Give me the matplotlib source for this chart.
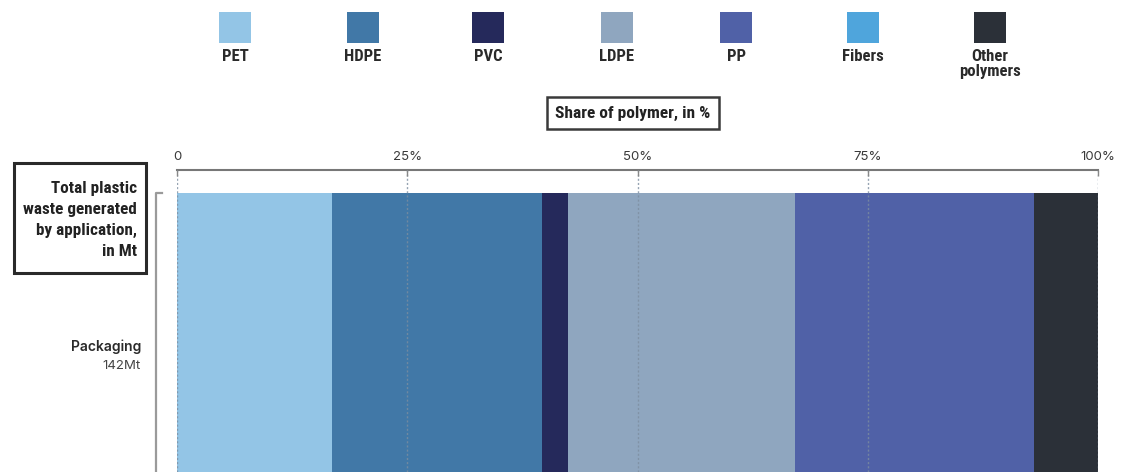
import matplotlib
matplotlib.use("Agg")
import matplotlib.pyplot as plt
from matplotlib import font_manager
from matplotlib.patches import Rectangle
from matplotlib.lines import Line2D

# Polymer shares of packaging waste (%)
polymers = ["PET", "HDPE", "PVC", "LDPE", "PP", "Fibers", "Other\npolymers"]
shares = [16.8, 22.8, 2.9, 24.6, 26.0, 0.0, 6.9]
colors = ["#93c5e6", "#4178a7", "#25295b", "#8fa6bf", "#5061a7", "#4fa5dc", "#2b3038"]
application = "Packaging"
application_total = "142Mt"
tick_values = [0, 25, 50, 75, 100]
tick_labels = ["0", "25%", "50%", "75%", "100%"]

W, H = 1122, 472

# Pick a narrow bold face for headings if one is installed
fonts = font_manager.fontManager.ttflist
names = {f.name for f in fonts}
COND_STYLE = None
for cand in ["Liberation Sans Narrow", "Roboto Condensed", "Open Sans Condensed",
             "Noto Sans Condensed", "DejaVu Sans Condensed"]:
    if cand in names:
        COND_STYLE = dict(family=[cand, "DejaVu Sans"])
        SCALE = 1.0
        break
if COND_STYLE is None:
    has_cond = any(f.name == "DejaVu Sans" and str(f.stretch) in ("condensed", "semi-condensed")
                   for f in fonts)
    COND_STYLE = dict(family=["DejaVu Sans"], stretch="condensed")
    SCALE = 0.95 if has_cond else 0.85


def fx(x):
    return x / W


def fy(y):
    return 1 - y / H


fig = plt.figure(figsize=(W / 100, H / 100), dpi=100)
fig.patch.set_facecolor("white")

# Legend row: coloured squares with labels underneath
legend_x = [235, 363, 488, 617, 736, 863, 990]
for name, col, cx in zip(polymers, colors, legend_x):
    fig.patches.append(Rectangle((fx(cx - 16), fy(43)), 32 / W, 31 / H,
                                 transform=fig.transFigure, facecolor=col,
                                 edgecolor="none"))
    fig.text(fx(cx), fy(49), name, ha="center", va="top", fontsize=12 * SCALE,
             fontweight="bold", color="#2a2a2a", linespacing=1.0, **COND_STYLE)

# Axis title box
fig.text(fx(633), fy(113), "Share of polymer, in %", ha="center", va="center",
         fontsize=12.5 * SCALE, fontweight="bold", color="#222222",
         bbox=dict(boxstyle="square,pad=0.5", facecolor="white",
                   edgecolor="#3a3a3a", linewidth=1.8), **COND_STYLE)

# Main axes
ax = fig.add_axes([fx(177), 0, (1098 - 177) / W, 1 - 170 / H])
left = 0.0
for share, col in zip(shares, colors):
    ax.barh(0, share, left=left, height=2.0, color=col, edgecolor="none",
            zorder=1)
    left += share

ax.set_xlim(0, 100)
ax.set_ylim(0, 302 / 279)
ax.set_yticks([])
ax.xaxis.tick_top()
ax.set_xticks(tick_values)
ax.set_xticklabels(tick_labels)
ax.tick_params(axis="x", direction="in", length=4, width=1.0, color="#888888",
               pad=5, labelsize=9.5, labelcolor="#3a3a3a")
for lab in ax.get_xticklabels():
    lab.set_family(["Inter", "DejaVu Sans"])
for side in ["left", "right", "bottom"]:
    ax.spines[side].set_visible(False)
ax.spines["top"].set_color("#777777")
ax.spines["top"].set_linewidth(1.5)
ax.set_axisbelow(False)
ax.grid(axis="x", color="#7d8ea0", linestyle=(0, (1.5, 1.5)), linewidth=1.0,
        alpha=0.8, zorder=3)
ax.patch.set_alpha(0)

# Left bracket marking the category rows
fig.lines.append(Line2D([fx(162), fx(156), fx(156)], [fy(193), fy(193), fy(472)],
                        transform=fig.transFigure, color="#9a9a9a",
                        linewidth=1.6))

# Row header box
fig.patches.append(Rectangle((fx(14), fy(273)), (146 - 14) / W, (273 - 163) / H,
                             transform=fig.transFigure, facecolor="white",
                             edgecolor="#2a2a2a", linewidth=2.2))
fig.text(fx(137), fy(220), "Total plastic\nwaste generated\nby application,\nin Mt",
         ha="right", va="center", fontsize=12.3 * SCALE, fontweight="bold",
         color="#222222", linespacing=1.5, **COND_STYLE)

# Category label
fig.text(fx(141), fy(347), application, ha="right", va="center", fontsize=10,
         fontweight="semibold", family=["Inter", "DejaVu Sans"], color="#2a2a2a")
fig.text(fx(141), fy(366), application_total, ha="right", va="center",
         fontsize=9.5, family=["Inter", "DejaVu Sans"], color="#444444")

fig.savefig("out.png", dpi=100, facecolor="white")
